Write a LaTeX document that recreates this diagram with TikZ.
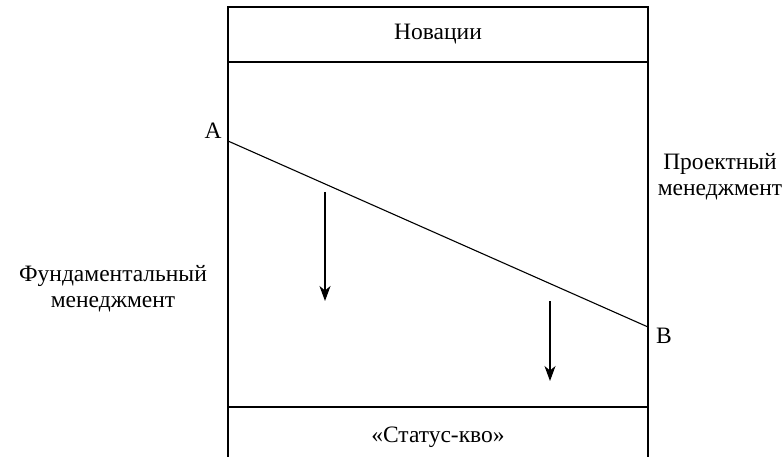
\documentclass[tikz,border=0pt]{standalone}
\usepackage{fontspec}
\setmainfont{Liberation Serif}
\newfontfamily\myserif{Liberation Serif}
\usetikzlibrary{arrows.meta}
\begin{document}
\begin{tikzpicture}[x=1pt,y=-1pt,
  lbl/.style={font=\myserif\fontsize{23.5}{26}\selectfont, inner sep=0pt, align=center},
  ln/.style={line width=1.1pt},
  arr/.style={line width=1.2pt, -{Stealth[length=15pt,width=11pt,inset=4.5pt]}}]
\useasboundingbox (0,0) rectangle (784,457);
% frame
\coordinate (TL) at (228,7);
\coordinate (TR) at (648,7);
\coordinate (BL) at (228,458);
\coordinate (BR) at (648,458);
\coordinate (H1L) at (228,62);
\coordinate (H1R) at (648,62);
\coordinate (H2L) at (228,407);
\coordinate (H2R) at (648,407);
\draw[ln] (BL) -- (TL) -- (TR) -- (BR);
\draw[ln] (H1L) -- (H1R);
\draw[ln] (H2L) -- (H2R);
% texts
\node[lbl] (nov) at (438,34) {Новации};
\node[lbl] (sq) at (438,437) {«Статус-кво»};
\node[lbl] (fund) at (113,289) {Фундаментальный\\менеджмент};
\node[lbl] (proj) at (720,177) {Проектный\\менеджмент};
% line AB
\coordinate (A) at (228,141);
\coordinate (B) at (648,327);
\node[lbl] (la) at (213,131) {A};
\node[lbl] (lb) at (664,336) {B};
\draw[ln] (A) -- (B);
% arrows
\coordinate (a1s) at (325,192);
\coordinate (a1e) at (325,301);
\coordinate (a2s) at (550,301);
\coordinate (a2e) at (550,381);
\draw[arr] (a1s) -- (a1e);
\draw[arr] (a2s) -- (a2e);
\end{tikzpicture}
\end{document}
